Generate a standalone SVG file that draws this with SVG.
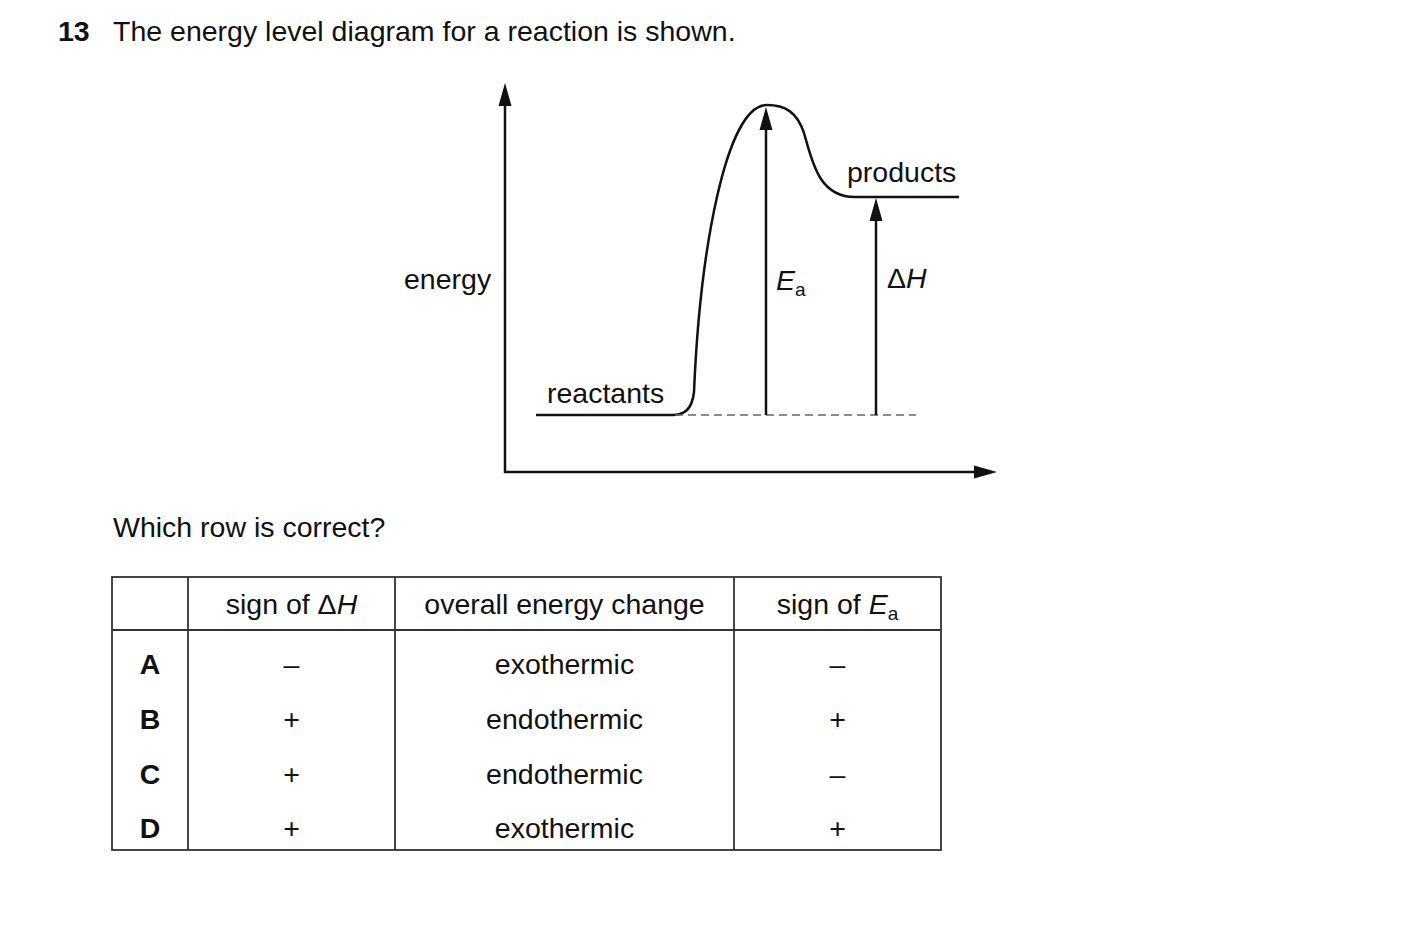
<svg xmlns="http://www.w3.org/2000/svg" width="1403" height="943" viewBox="0 0 1403 943">
<style>
text{font-family:"Liberation Sans",Arial,sans-serif;font-size:28.5px;fill:#111}
.b{font-weight:bold}
.i{font-style:italic}
.m{text-anchor:middle}
.ln{fill:none;stroke:#111;stroke-width:2.5}
.tb{fill:none;stroke:#333;stroke-width:1.8}
</style>
<defs>
<marker id="ah" markerUnits="userSpaceOnUse" markerWidth="26" markerHeight="16" viewBox="0 0 26 16" refX="12" refY="8" orient="auto">
<path d="M0,1.5 L23,8 L0,14.5 Z" fill="#111"/>
</marker>
</defs>
<rect width="1403" height="943" fill="#fff"/>
<g id="title">
<text x="58" y="41" class="b">13</text>
<text x="113" y="41">The energy level diagram for a reaction is shown.</text>
</g>
<g id="curve">
<path class="ln" d="M536,415 H672 C684,415 692,410 694,392 C700,250 726,105 767,105 C785,105 797,112 804,133 C812,160 818,197 855,197 H959"/>
<line x1="675" y1="415" x2="916" y2="415" stroke="#666" stroke-width="1.5" stroke-dasharray="8 5"/>
</g>
<g id="connectors">
<line class="ln" x1="505" y1="473" x2="505" y2="94" marker-end="url(#ah)"/>
<line class="ln" x1="504" y1="472" x2="986" y2="472" marker-end="url(#ah)"/>
<line class="ln" x1="766" y1="415" x2="766" y2="118" marker-end="url(#ah)"/>
<line class="ln" x1="876" y1="415" x2="876" y2="209" marker-end="url(#ah)"/>
</g>
<g id="labels">
<text x="404" y="289">energy</text>
<text x="547" y="403">reactants</text>
<text x="847" y="182">products</text>
<text x="776" y="290"><tspan class="i">E</tspan><tspan font-size="19" dy="6">a</tspan></text>
<text x="887" y="288">Δ<tspan class="i">H</tspan></text>
</g>
<g id="question">
<text x="113" y="537">Which row is correct?</text>
</g>
<g id="table">
<rect class="tb" x="112" y="577" width="829" height="273"/>
<line class="tb" x1="112" y1="630" x2="941" y2="630"/>
<line class="tb" x1="188" y1="577" x2="188" y2="850"/>
<line class="tb" x1="395" y1="577" x2="395" y2="850"/>
<line class="tb" x1="734" y1="577" x2="734" y2="850"/>
<text x="291.5" y="614" class="m">sign of Δ<tspan class="i">H</tspan></text>
<text x="564.5" y="614" class="m">overall energy change</text>
<text x="837.5" y="614" class="m">sign of <tspan class="i">E</tspan><tspan font-size="19" dy="6">a</tspan></text>
<text x="150" y="674" class="m b">A</text>
<text x="291.5" y="674" class="m">–</text>
<text x="564.5" y="674" class="m">exothermic</text>
<text x="837.5" y="674" class="m">–</text>
<text x="150" y="729" class="m b">B</text>
<text x="291.5" y="729" class="m">+</text>
<text x="564.5" y="729" class="m">endothermic</text>
<text x="837.5" y="729" class="m">+</text>
<text x="150" y="784" class="m b">C</text>
<text x="291.5" y="784" class="m">+</text>
<text x="564.5" y="784" class="m">endothermic</text>
<text x="837.5" y="784" class="m">–</text>
<text x="150" y="838" class="m b">D</text>
<text x="291.5" y="838" class="m">+</text>
<text x="564.5" y="838" class="m">exothermic</text>
<text x="837.5" y="838" class="m">+</text>
</g>
</svg>
